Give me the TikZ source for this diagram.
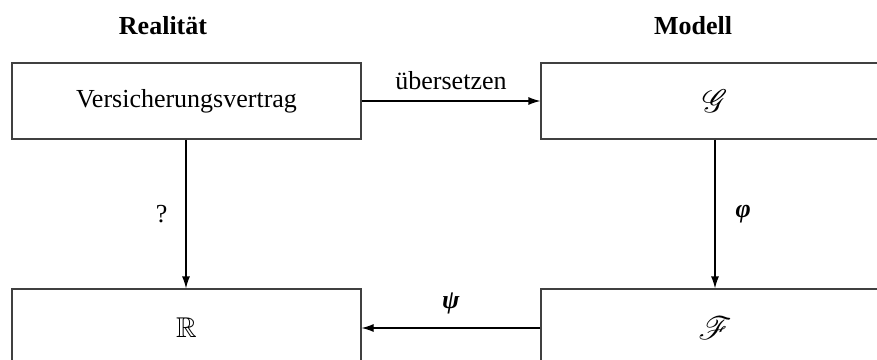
\documentclass[tikz,border=0pt]{standalone}
\usepackage{amssymb}
\usepackage{mathrsfs}
\usepackage{graphicx}
\usepackage{fontspec}
\setmainfont{Liberation Serif}
\usetikzlibrary{arrows.meta}
\begin{document}
\begin{tikzpicture}[x=1pt,y=-1pt,
  every node/.style={font=\fontsize{26}{30}\selectfont},
  box/.style={draw=black!75, line width=1.2pt, rectangle, inner sep=0pt},
  conn/.style={line width=1.2pt, -{Latex[length=12pt,width=8pt]}},
  lbl/.style={inner sep=0pt}]
\useasboundingbox (0,0) rectangle (877,359);
\node[lbl, font=\fontsize{26}{30}\selectfont\bfseries] (hreal) at (163,26) {Realität};
\node[lbl, font=\fontsize{26}{30}\selectfont\bfseries] (hmod) at (693,26) {Modell};
\node[box, minimum width=349pt, minimum height=76pt] (vv) at (186.5,101) {Versicherungsvertrag};
\node[box, minimum width=348pt, minimum height=76pt] (g) at (715,101) {\scalebox{1.3}{$\mathscr{G}$}};
\node[box, minimum width=349pt, minimum height=78pt] (r) at (186.5,328) {\scalebox{1.1}{$\mathbb{R}$}};
\node[box, minimum width=348pt, minimum height=78pt] (f) at (715,328) {\scalebox{1.3}{$\mathscr{F}$}};
\draw[conn] (vv) -- node[lbl, above=11pt] {übersetzen} (g);
\draw[conn] ([xshift=-0.5pt]vv.south) -- node[lbl, left=18pt] {?} ([xshift=-0.5pt]r.north);
\draw[conn] (g) -- node[lbl, right=20pt] {\textbf{\textit{φ}}} (f);
\draw[conn] (f) -- node[lbl, above=13pt] {\textbf{\textit{ψ}}} (r);
\end{tikzpicture}
\end{document}
